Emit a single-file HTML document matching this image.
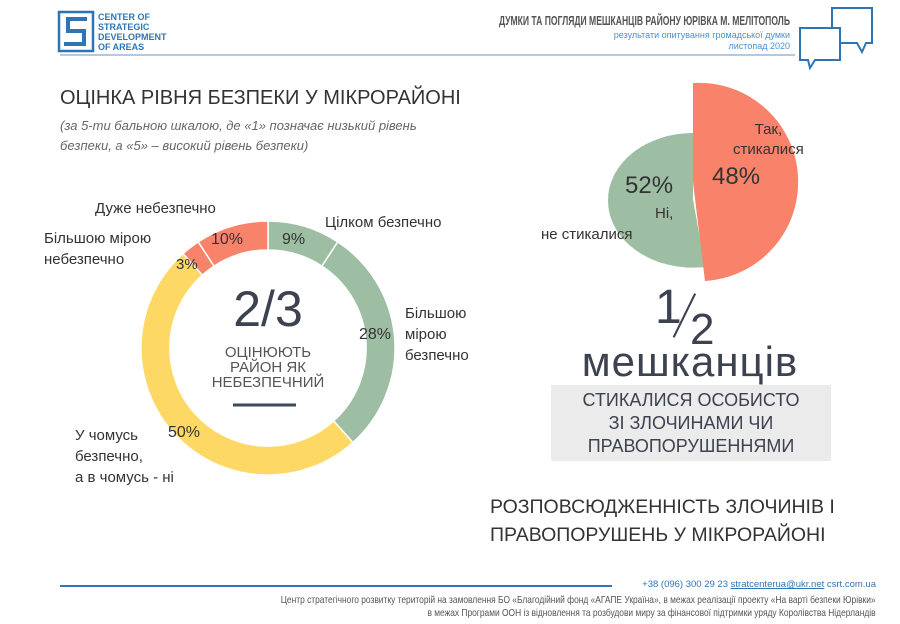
<!DOCTYPE html>
<html><head><meta charset="utf-8"><style>
body{margin:0;width:900px;height:624px;background:#fff;overflow:hidden;font-family:"Liberation Sans","DejaVu Sans",sans-serif;position:relative;color:#333}
.a{position:absolute;white-space:nowrap}
</style></head><body>
<svg class="a" style="left:0;top:0" width="900" height="624">
 <rect x="59" y="12" width="34" height="39" fill="none" stroke="#2e75b6" stroke-width="2.5"/>
 <path d="M87 19 H68 V31 H84 V44 H64" fill="none" stroke="#2e75b6" stroke-width="4"/>
 <line x1="60" y1="55" x2="795" y2="55" stroke="#b8c8dc" stroke-width="2"/>
 <path d="M832 8 H872 V43 H866 L862 52 L857 43 H832 Z" fill="#fff" stroke="#2e75b6" stroke-width="2"/>
 <path d="M800 28 H840 V60 H815 L810 68 L808 60 H800 Z" fill="#fff" stroke="#2e75b6" stroke-width="2"/>
 <g transform="translate(268,348)">
  <path d="M0,-127 A127,127 0 0 1 69.8,-106.1 L53.9,-81.9 A98,98 0 0 0 0,-98 Z" fill="#9dbea3" stroke="#fff" stroke-width="1.5"/>
  <path d="M69.8,-106.1 A127,127 0 0 1 84.9,94.5 L65.6,72.9 A98,98 0 0 0 53.9,-81.9 Z" fill="#9dbea3" stroke="#fff" stroke-width="1.5"/>
  <path d="M84.9,94.5 A127,127 0 1 1 -85,-94.4 L-65.6,-72.9 A98,98 0 1 0 65.6,72.9 Z" fill="#fdd865" stroke="#fff" stroke-width="1.5"/>
  <path d="M-85,-94.4 A127,127 0 0 1 -69.8,-106.1 L-53.9,-81.9 A98,98 0 0 0 -65.6,-72.9 Z" fill="#f8836b" stroke="#fff" stroke-width="1.5"/>
  <path d="M-69.8,-106.1 A127,127 0 0 1 0,-127 L0,-98 A98,98 0 0 0 -53.9,-81.9 Z" fill="#f8836b" stroke="#fff" stroke-width="1.5"/>
 </g>
 <line x1="233" y1="405" x2="296" y2="405" stroke="#3d4a5c" stroke-width="3"/>
 <path d="M693,133 A85,67 0 0 0 705,267 L693,200 Z" fill="#9dbea3"/>
 <path d="M608,200 A85,67 0 0 0 705,267 L693,200 Z" fill="#9dbea3"/>
 <path d="M608,200 A85,67 0 0 1 693,133 L693,200 Z" fill="#9dbea3"/>
 <path d="M693,83 A98,98 0 0 1 705,281 L693,182 Z" fill="#f8826a"/>
 <rect x="551" y="385" width="280" height="76" fill="#ebebeb"/>
 <line x1="60" y1="586" x2="612" y2="586" stroke="#2e75b6" stroke-width="2"/>
</svg>
<div class="a" style="left:98px;top:12px;font-size:9px;font-weight:bold;line-height:10px;color:#2e75b6">CENTER OF<br>STRATEGIC<br>DEVELOPMENT<br>OF AREAS</div>
<div class="a" style="right:110px;top:13px;font-size:13px;font-weight:bold;color:#555;transform:scaleX(.66);transform-origin:right">ДУМКИ ТА ПОГЛЯДИ МЕШКАНЦІВ РАЙОНУ ЮРІВКА М. МЕЛІТОПОЛЬ</div>
<div class="a" style="right:110px;top:30px;font-size:9px;color:#4a8fd0;text-align:right;line-height:11px">результати опитування громадської думки<br>листопад 2020</div>
<div class="a" style="left:60px;top:87px;font-size:20px;color:#333">ОЦІНКА РІВНЯ БЕЗПЕКИ У МІКРОРАЙОНІ</div>
<div class="a" style="left:60px;top:116px;font-size:13px;font-style:italic;color:#666;line-height:20px">(за 5-ти бальною шкалою, де «1» позначає низький рівень<br>безпеки, а «5» – високий рівень безпеки)</div>
<div class="a" style="left:95px;top:200px;font-size:15px">Дуже небезпечно</div>
<div class="a" style="left:44px;top:228px;font-size:15px;line-height:21px">Більшою мірою<br>небезпечно</div>
<div class="a" style="left:325px;top:214px;font-size:15px">Цілком безпечно</div>
<div class="a" style="left:405px;top:303px;font-size:15px;line-height:21px">Більшою<br>мірою<br>безпечно</div>
<div class="a" style="left:75px;top:425px;font-size:15px;line-height:21px">У чомусь<br>безпечно,<br>а в чомусь - ні</div>
<div class="a" style="left:211px;top:231px;font-size:16px">10%</div>
<div class="a" style="left:282px;top:231px;font-size:16px">9%</div>
<div class="a" style="left:176px;top:256px;font-size:15px">3%</div>
<div class="a" style="left:359px;top:326px;font-size:16px">28%</div>
<div class="a" style="left:168px;top:424px;font-size:16px">50%</div>
<div class="a" style="left:268px;top:280px;transform:translateX(-50%);font-size:50px;color:#3d4250">2/3</div>
<div class="a" style="left:268px;top:345px;transform:translateX(-50%);font-size:15px;line-height:15px;text-align:center;color:#555">ОЦІНЮЮТЬ<br>РАЙОН ЯК<br>НЕБЕЗПЕЧНИЙ</div>
<div class="a" style="left:733px;top:120px;font-size:15px;line-height:20px;text-align:center;color:#333">Так,<br>стикалися</div>
<div class="a" style="left:712px;top:163px;font-size:24px">48%</div>
<div class="a" style="left:625px;top:172px;font-size:24px">52%</div>
<div class="a" style="left:655px;top:205px;font-size:15px">Ні,</div>
<div class="a" style="left:541px;top:226px;font-size:15px">не стикалися</div>
<div class="a" style="left:655px;top:280px;font-size:48px;color:#3d4250">1</div>
<div class="a" style="left:675px;top:278px;font-size:66px;color:#3d4250;transform:rotate(20deg) scaleX(.4)">/</div>
<div class="a" style="left:690px;top:305px;font-size:44px;color:#3d4250">2</div>
<div class="a" style="left:690px;top:338px;transform:translateX(-50%);font-size:42px;color:#3d4250;letter-spacing:1px">мешканців</div>
<div class="a" style="left:691px;top:389px;transform:translateX(-50%);font-size:18px;line-height:23px;text-align:center;color:#3d4250">СТИКАЛИСЯ ОСОБИСТО<br>ЗІ ЗЛОЧИНАМИ ЧИ<br>ПРАВОПОРУШЕННЯМИ</div>
<div class="a" style="left:490px;top:493px;font-size:19.5px;line-height:28px;color:#333">РОЗПОВСЮДЖЕННІСТЬ ЗЛОЧИНІВ І<br>ПРАВОПОРУШЕНЬ У МІКРОРАЙОНІ</div>
<div class="a" style="right:24px;top:579px;font-size:9.5px;color:#2e75b6">+38 (096) 300 29 23 <u>stratcenterua@ukr.net</u> csrt.com.ua</div>
<div class="a" style="right:24px;top:594px;font-size:10.5px;color:#555;text-align:right;line-height:13px;transform:scaleX(.8);transform-origin:right">Центр стратегічного розвитку територій на замовлення БО «Благодійний фонд «АГАПЕ Україна», в межах реалізації проекту «На варті безпеки Юрівки»<br>в межах Програми ООН із відновлення та розбудови миру за фінансової підтримки уряду Королівства Нідерландів</div>
</body></html>
